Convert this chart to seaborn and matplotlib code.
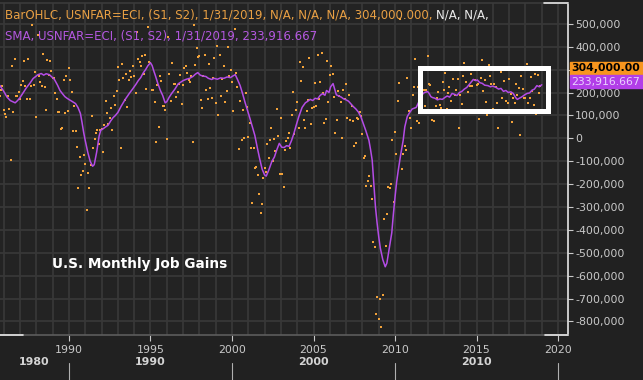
import numpy as np
import pandas as pd
import matplotlib
matplotlib.use("Agg")
import matplotlib.pyplot as plt
import matplotlib.patches as mpatches
import matplotlib.transforms as mtransforms
from matplotlib.lines import Line2D
from matplotlib.ticker import FuncFormatter, MultipleLocator
import seaborn as sns

# monthly change in US nonfarm payrolls, thousands, starting Sep 1985
first_month = "1985-09"
job_gains_k = [
    200, 187, 212, 230,                                               # 1985
    125, 107, 94, 187, 126, -94, 318, 114, 347, 186, 186, 204,        # 1986
    172, 232, 249, 338, 227, 171, 345, 170, 228, 494, 231, 289,       # 1987
    93, 453, 273, 247, 229, 367, 222, 124, 341, 275, 338, 294,        # 1988
    263, 264, 199, 172, 116, 113, 39, 46, 256, 111, 271, 121,         # 1989
    309, 255, 201, 30, 141, 32, -37, -215, -83, -160, -141, -73,      # 1990
    -110, -313, -150, -215, -116, 97, -42, -4, 22, 38, -26, 36,       # 1991
    42, -58, 59, 165, 109, 63, 87, 131, 38, 185, 145, 208,            # 1992
    312, 255, -43, 323, 262, 166, 282, 135, 253, 295, 269, 315,       # 1993
    272, 199, 464, 347, 334, 315, 358, 281, 363, 214, 485, 333,       # 1994
    330, 210, 212, 158, -16, 235, 50, 272, 249, 143, 142, 122,        # 1995
    -2, 443, 283, 163, 328, 238, 236, 181, 204, 238, 278, 148,        # 1996
    234, 306, 317, 284, 254, 247, 273, -17, 493, 319, 393, 354,       # 1997
    358, 169, 133, 271, 363, 209, 173, 323, 218, 174, 262, 349,       # 1998
    155, 402, 100, 363, 184, 261, 318, 159, 207, 401, 271, 298,       # 1999
    248, 121, 479, 286, 222, -45, 165, -9, 124, 1, 199, 136,          # 2000
    5, 69, -43, -283, -44, -128, -125, -161, -244, -328, -289, -174,  # 2001
    -130, -146, -24, -85, -9, 46, -100, -1, -57, 126, 8, -157,        # 2002
    88, -157, -213, -49, -10, 1, 25, -42, 103, 201, 18, 123,          # 2003
    160, 43, 333, 250, 313, 81, 46, 119, 166, 349, 64, 132,           # 2004
    135, 240, 142, 362, 170, 246, 372, 198, 67, 84, 337, 159,         # 2005
    277, 315, 280, 182, 23, 82, 206, 183, 157, 2, 210, 171,           # 2006
    236, 90, 190, 80, 143, 75, -34, -20, 88, 84, 114, 98,             # 2007
    17, -84, -78, -210, -185, -165, -209, -266, -452, -473, -769, -695,  # 2008
    -791, -703, -823, -686, -351, -470, -329, -212, -219, -200, -7, -279,  # 2009
    28, -69, 163, 243, 522, -133, -70, -34, -52, 262, 119, 87,        # 2010
    43, 189, 225, 346, 77, 225, 69, 110, 248, 209, 141, 209,          # 2011
    358, 237, 233, 78, 115, 76, 143, 177, 203, 146, 132, 244,         # 2012
    211, 286, 130, 197, 226, 162, 122, 261, 190, 212, 258, 47,        # 2013
    190, 151, 272, 329, 246, 304, 202, 230, 280, 227, 312, 255,       # 2014
    234, 238, 86, 262, 344, 206, 254, 157, 100, 321, 272, 239,        # 2015
    126, 237, 225, 153, 43, 297, 291, 176, 249, 124, 164, 155,        # 2016
    259, 195, 73, 175, 155, 239, 190, 221, 14, 271, 216, 175,         # 2017
    176, 324, 155, 175, 268, 208, 147, 282, 108, 277, 196, 227,       # 2018
    304,                                                              # 2019
]

# moving average (year, thousands)
sma_years = [
    1985.70, 1985.77, 1986.00, 1986.20, 1986.40, 1986.55, 1986.70, 1986.85,
    1987.00, 1987.20, 1987.40, 1987.60, 1987.80, 1988.00, 1988.10, 1988.30,
    1988.45, 1988.60, 1988.80, 1988.95, 1989.10, 1989.30, 1989.45, 1989.60,
    1989.75, 1989.90, 1990.10, 1990.25, 1990.40, 1990.55, 1990.70, 1990.80,
    1990.90, 1991.00, 1991.15, 1991.30, 1991.45, 1991.55, 1991.70, 1991.85,
    1991.95, 1992.10, 1992.25, 1992.40, 1992.55, 1992.70, 1992.85, 1993.00,
    1993.20, 1993.45, 1993.70, 1993.90, 1994.10, 1994.25, 1994.40, 1994.55,
    1994.70, 1994.85, 1995.00, 1995.10, 1995.20, 1995.30, 1995.45, 1995.60,
    1995.75, 1995.90, 1996.00, 1996.15, 1996.30, 1996.50, 1996.70, 1996.85,
    1997.00, 1997.20, 1997.40, 1997.60, 1997.75, 1997.90, 1998.05, 1998.20,
    1998.40, 1998.55, 1998.75, 1998.90, 1999.10, 1999.30, 1999.50, 1999.70,
    1999.90, 2000.05, 2000.20, 2000.35, 2000.50, 2000.65, 2000.80, 2000.95,
    2001.10, 2001.25, 2001.40, 2001.55, 2001.70, 2001.85, 2002.00, 2002.10,
    2002.25, 2002.45, 2002.60, 2002.75, 2002.90, 2003.05, 2003.20, 2003.35,
    2003.50, 2003.65, 2003.80, 2003.95, 2004.10, 2004.30, 2004.50, 2004.65,
    2004.80, 2004.95, 2005.10, 2005.25, 2005.40, 2005.55, 2005.70, 2005.80,
    2005.95, 2006.05, 2006.20, 2006.30, 2006.40, 2006.55, 2006.70, 2006.85,
    2007.00, 2007.15, 2007.30, 2007.45, 2007.60, 2007.75, 2007.90, 2008.05,
    2008.20, 2008.40, 2008.50, 2008.60, 2008.70, 2008.80, 2008.90, 2009.00,
    2009.10, 2009.25, 2009.40, 2009.50, 2009.60, 2009.70, 2009.80, 2009.90,
    2010.00, 2010.10, 2010.20, 2010.35, 2010.50, 2010.60, 2010.75, 2010.90,
    2011.05, 2011.30, 2011.50, 2011.65, 2011.80, 2012.00, 2012.10, 2012.20,
    2012.30, 2012.45, 2012.60, 2012.75, 2012.90, 2013.05, 2013.20, 2013.35,
    2013.50, 2013.65, 2013.80, 2013.95, 2014.10, 2014.25, 2014.40, 2014.55,
    2014.70, 2014.80, 2014.95, 2015.05, 2015.20, 2015.35, 2015.50, 2015.70,
    2015.85, 2016.00, 2016.20, 2016.35, 2016.50, 2016.65, 2016.80, 2016.95,
    2017.10, 2017.25, 2017.40, 2017.50, 2017.65, 2017.80, 2017.95, 2018.10,
    2018.25, 2018.40, 2018.55, 2018.70, 2018.85, 2019.00,
]
sma_k = [
    232, 230, 205, 180, 165, 160, 155, 165,
    178, 200, 222, 240, 261, 272, 278, 283,
    276, 282, 278, 268, 258, 232, 209, 195,
    182, 174, 165, 158, 152, 135, 109, 70,
    26, -10, -60, -100, -122, -115, -60, 10,
    35, 42, 50, 57, 75, 90, 100, 113,
    140, 170, 196, 215, 235, 252, 265, 285,
    300, 318, 330, 318, 295, 274, 240, 210,
    187, 155, 160, 180, 196, 215, 238, 245,
    252, 258, 262, 270, 280, 287, 276, 272,
    270, 262, 257, 262, 258, 264, 262, 268,
    265, 272, 278, 255, 230, 195, 157, 122,
    87, 50, 13, -40, -90, -135, -160, -165,
    -140, -100, -82, -50, -22, -39, -40, -32,
    -35, -10, 22, 60, 95, 135, 155, 162,
    170, 165, 175, 172, 187, 195, 188, 209,
    200, 225, 239, 215, 190, 185, 180, 172,
    168, 162, 150, 138, 128, 115, 95, 65,
    35, -9, -50, -96, -200, -300, -370, -430,
    -480, -530, -561, -545, -500, -455, -413, -330,
    -257, -190, -139, -70, -9, 50, 95, 113,
    128, 135, 165, 190, 200, 204, 195, 182,
    178, 175, 168, 172, 170, 178, 185, 180,
    196, 192, 187, 200, 205, 215, 222, 235,
    248, 257, 252, 255, 243, 240, 232, 230,
    225, 228, 222, 215, 218, 205, 209, 200,
    203, 196, 178, 170, 176, 182, 190, 196,
    198, 210, 215, 230, 225, 234,
]

year_ticks = [1990, 1995, 2000, 2005, 2010, 2015, 2020]
decade_starts = [1980, 1990, 2000, 2010]
decade_labels = ["1980", "1990", "2000", "2010"]
value_ticks_k = list(range(-800, 501, 100))
hidden_tick_k = 300   # sits under the last-value tag

header_bar = "BarOHLC, USNFAR=ECI, (S1, S2), 1/31/2019, N/A, N/A, N/A, 304,000.000, "
header_bar_tail = "N/A, N/A,"
header_sma = "SMA, USNFAR=ECI, (S1, S2), 1/31/2019, 233,916.667"
last_bar = "304,000.00"
last_sma = "233,916.667"
chart_title = "U.S. Monthly Job Gains"

# highlighted stretch (years, thousands)
box_years = (2011.53, 2019.38)
box_k = (119, 305)

BG = "#212121"
PLOT_BG = "#232323"
GRID = "#383838"
ORANGE = "#f2a23a"
PURPLE = "#b44ce6"
TXT = "#c9c9c9"

W, H = 643, 380

months = pd.date_range(first_month, periods=len(job_gains_k), freq="MS")
gains = pd.DataFrame({
    "year": months.year + (months.month - 1) / 12,
    "gain": np.array(job_gains_k) * 1000,
})
sma = pd.DataFrame({"year": sma_years, "sma": np.array(sma_k) * 1000})

sns.set_theme(style="dark")
plt.rcParams["font.family"] = ["DejaVu Sans"]

fig = plt.figure(figsize=(W / 100, H / 100), dpi=100, facecolor=BG)
ax = fig.add_axes([0, 1 - 335 / H, 568 / W, 332 / H])
ax.set_facecolor(PLOT_BG)

sns.scatterplot(data=gains, x="year", y="gain", ax=ax, color=ORANGE, marker="s",
                s=2.2, linewidth=0, legend=False, zorder=3)
sns.lineplot(data=sma, x="year", y="sma", ax=ax, color=PURPLE, linewidth=1.1,
             zorder=4, sort=False)

ax.set_xlim(1985.77, 2020.61)
ax.set_ylim(-859000, 591000)
ax.set_xlabel("")
ax.set_ylabel("")

# grid: every year, every 100k
ax.set_xticks(year_ticks)
ax.xaxis.set_minor_locator(MultipleLocator(1))
ax.set_yticks([v * 1000 for v in value_ticks_k])
ax.grid(True, which="both", axis="x", color=GRID, linewidth=1.3)
ax.grid(True, which="major", axis="y", color=GRID, linewidth=1.3)
ax.set_axisbelow(True)

ax.yaxis.tick_right()
ax.yaxis.set_major_formatter(FuncFormatter(
    lambda v, p: "" if round(v) == hidden_tick_k * 1000 else f"{v:,.0f}"))
ax.tick_params(axis="y", which="major", colors=TXT, labelsize=7.9, length=3.6,
               width=0.8, pad=1.5, direction="out", right=True, left=False)
ax.tick_params(axis="x", which="major", colors=TXT, labelsize=7.9, length=4,
               width=0.8, pad=3.5, direction="out", bottom=True)
ax.tick_params(which="minor", length=0)

ax.spines["left"].set_visible(False)
ax.spines["right"].set_color("#e6e6e6")
ax.spines["right"].set_linewidth(1.2)
ax.spines["top"].set_color("#3a3a3a")
ax.spines["bottom"].set_color("#5a5a5a")
for x0, x1, y in [(0, 0.04, 0), (0.96, 1, 0), (0.958, 1, 1)]:
    ax.plot([x0, x1], [y, y], transform=ax.transAxes, color="#e6e6e6",
            linewidth=1.2, clip_on=False, zorder=6)

# highlight box
ax.add_patch(mpatches.Rectangle((box_years[0], box_k[0] * 1000),
                                box_years[1] - box_years[0],
                                (box_k[1] - box_k[0]) * 1000,
                                fill=False, edgecolor="white", linewidth=3.6,
                                zorder=5))

# decade band under the axis
band = mtransforms.blended_transform_factory(ax.transData, fig.transFigure)
x_lo, x_hi = ax.get_xlim()
for start, label in zip(decade_starts, decade_labels):
    mid = (max(start, x_lo) + min(start + 10, x_hi)) / 2
    fig.text(mid, 1 - 362 / H, label, transform=band, ha="center", va="center",
             color="#d4d4d4", fontsize=7.9, fontweight="bold")
for start in decade_starts[1:] + [2020]:
    fig.add_artist(Line2D([start, start], [1 - 363 / H, 0], transform=band,
                          color="#b0b0b0", linewidth=0.8))

# header legend lines
t1 = fig.text(5 / W, 1 - 15 / H, header_bar, color="#e9a044", fontsize=8.5,
              ha="left", va="center")
ax.annotate(header_bar_tail, xy=(1, 0.5), xycoords=t1, ha="left", va="center",
            color="#ececec", fontsize=8.5, annotation_clip=False)
fig.text(5 / W, 1 - 36 / H, header_sma, color="#b458e0", fontsize=8.5,
         ha="left", va="center")

fig.text(52 / W, 1 - 264 / H, chart_title, color="white", fontsize=9.8,
         fontweight="bold", ha="left", va="center")

# last value tags on the right
fig.add_artist(mpatches.Rectangle((570 / W, 1 - 74.5 / H), 80 / W, 13 / H,
                                  transform=fig.transFigure, color="#f7951e"))
fig.add_artist(mpatches.Rectangle((570 / W, 1 - 88 / H), 80 / W, 13 / H,
                                  transform=fig.transFigure, color="#b23ee8"))
fig.text(571 / W, 1 - 68 / H, last_bar, color="black", fontsize=7.8,
         fontweight="bold", ha="left", va="center")
fig.text(571 / W, 1 - 81.5 / H, last_sma, color="#ead2ff", fontsize=7.8,
         ha="left", va="center")

fig.savefig("out.png", dpi=100, facecolor=BG)
